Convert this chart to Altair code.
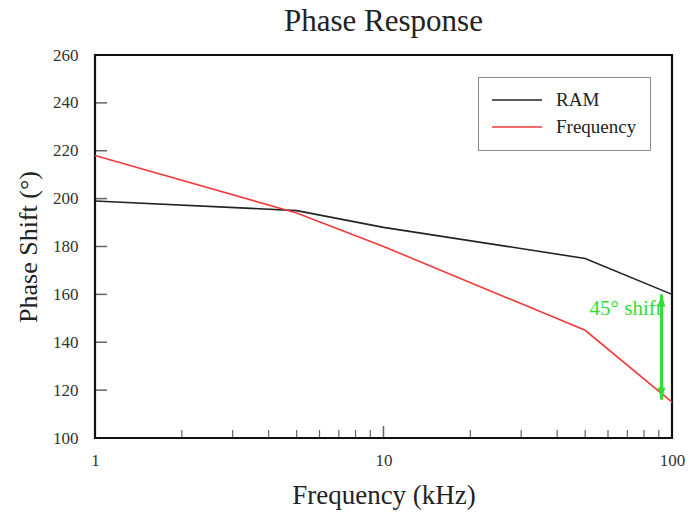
import altair as alt
import pandas as pd

# ---- data ----
freqs_khz = [1, 5, 10, 50, 100]
ram_phase = [199, 195, 188, 175, 160]
freq_phase = [218, 194, 180, 145, 115]
series_names = ["RAM", "Frequency"]
series_colors = ["#222222", "#ee3b3b"]

arrow_x = [92]
arrow_top = [160]
arrow_bottom = [116]
note_text = ["45° shift"]
note_y = [154]

y_major_ticks = [120, 140, 160, 180, 200, 220, 240]
x_minor_ticks = [2, 3, 4, 5, 6, 7, 8, 9, 20, 30, 40, 50, 60, 70, 80, 90]
x_major_ticks = [10]
x_labels = [1, 10, 100]

FONT = "Liberation Serif"
W, H = 577, 383

rows = []
for name, vals in zip(series_names, [ram_phase, freq_phase]):
    for i, (f, v) in enumerate(zip(freqs_khz, vals)):
        rows.append({"series": name, "freq": f, "phase": v, "ord": i})
df = pd.DataFrame(rows)

xscale = alt.Scale(type="log", domain=[1, 100], nice=False)
yscale = alt.Scale(domain=[100, 260], nice=False, zero=False)

lines = alt.Chart(df).mark_line(strokeWidth=1.6).encode(
    x=alt.X("freq:Q", scale=xscale,
            axis=alt.Axis(title="Frequency (kHz)", values=x_labels, format="d",
                          ticks=False, grid=False, labelPadding=14, titlePadding=14,
                          labelFlush=False, titleFontSize=27)),
    y=alt.Y("phase:Q", scale=yscale,
            axis=alt.Axis(title="Phase Shift (°)", values=[100, 120, 140, 160, 180, 200, 220, 240, 260],
                          ticks=False, grid=False, labelPadding=17, titlePadding=11,
                          labelFlush=False, titleFontSize=26)),
    color=alt.Color("series:N",
                    scale=alt.Scale(domain=series_names, range=series_colors),
                    legend=alt.Legend(title=None, orient="none", legendX=383, legendY=22,
                                      symbolType="stroke", symbolSize=2500, symbolStrokeWidth=1.6,
                                      labelFont=FONT, labelFontSize=19, labelColor="#222",
                                      labelOffset=13, rowPadding=7, clipHeight=20,
                                      padding=13, strokeColor="#888", fillColor="white",
                                      labelLimit=200)),
    order="ord:Q",
)

ytick_df = pd.DataFrame({"v": y_major_ticks})
yticks = alt.Chart(ytick_df).mark_tick(orient="horizontal", size=12, xOffset=6,
                                       color="#222", thickness=1.5).encode(
    y=alt.Y("v:Q", scale=yscale), x=alt.value(0))

xminor_df = pd.DataFrame({"v": x_minor_ticks})
xminor = alt.Chart(xminor_df).mark_tick(orient="vertical", size=8, yOffset=-4, color="#222",
                                        thickness=1.2).encode(
    x=alt.X("v:Q", scale=xscale), y=alt.value(H))
xmajor_df = pd.DataFrame({"v": x_major_ticks})
xmajor = alt.Chart(xmajor_df).mark_tick(orient="vertical", size=12, yOffset=-6, color="#222",
                                        thickness=1.5).encode(
    x=alt.X("v:Q", scale=xscale), y=alt.value(H))

arrow_df = pd.DataFrame({"x": arrow_x, "top": arrow_top, "bottom": arrow_bottom,
                         "label": note_text, "ly": note_y})
GREEN = "#33dd33"
shaft = alt.Chart(arrow_df).mark_rule(color=GREEN, strokeWidth=3).encode(
    x=alt.X("x:Q", scale=xscale), y=alt.Y("top:Q", scale=yscale), y2="bottom:Q")
head_top = alt.Chart(arrow_df).mark_point(shape="M-0.6,1L0,-1L0.6,1Z", filled=True, color=GREEN,
                                          size=160, opacity=1, yOffset=6).encode(
    x=alt.X("x:Q", scale=xscale), y=alt.Y("top:Q", scale=yscale))
head_bot = alt.Chart(arrow_df).mark_point(shape="M-0.6,-1L0,1L0.6,-1Z", filled=True, color=GREEN,
                                          size=160, opacity=1, yOffset=-6).encode(
    x=alt.X("x:Q", scale=xscale), y=alt.Y("bottom:Q", scale=yscale))
note = alt.Chart(arrow_df).mark_text(color=GREEN, font=FONT, fontSize=21, align="right",
                                     baseline="middle", dx=0).encode(
    x=alt.X("x:Q", scale=xscale), y=alt.Y("ly:Q", scale=yscale), text="label:N")

chart = alt.layer(lines, yticks, xminor, xmajor, shaft, head_top, head_bot, note).properties(
    width=W, height=H,
    background="white",
    title=alt.TitleParams("Phase Response", font=FONT, fontSize=31, fontWeight="normal",
                          color="#222", offset=8, anchor="middle"),
    autosize=alt.AutoSizeParams(type="none"),
    padding={"left": 95, "top": 55, "right": 19, "bottom": 78},
).configure_view(stroke="#111", strokeWidth=2.2).configure_axis(
    labelFont=FONT, labelFontSize=17, labelColor="#333",
    titleFont=FONT, titleFontWeight="normal", titleColor="#222",
    domain=False,
)

chart.save("out.html", embed_options={"renderer": "svg", "actions": False})
